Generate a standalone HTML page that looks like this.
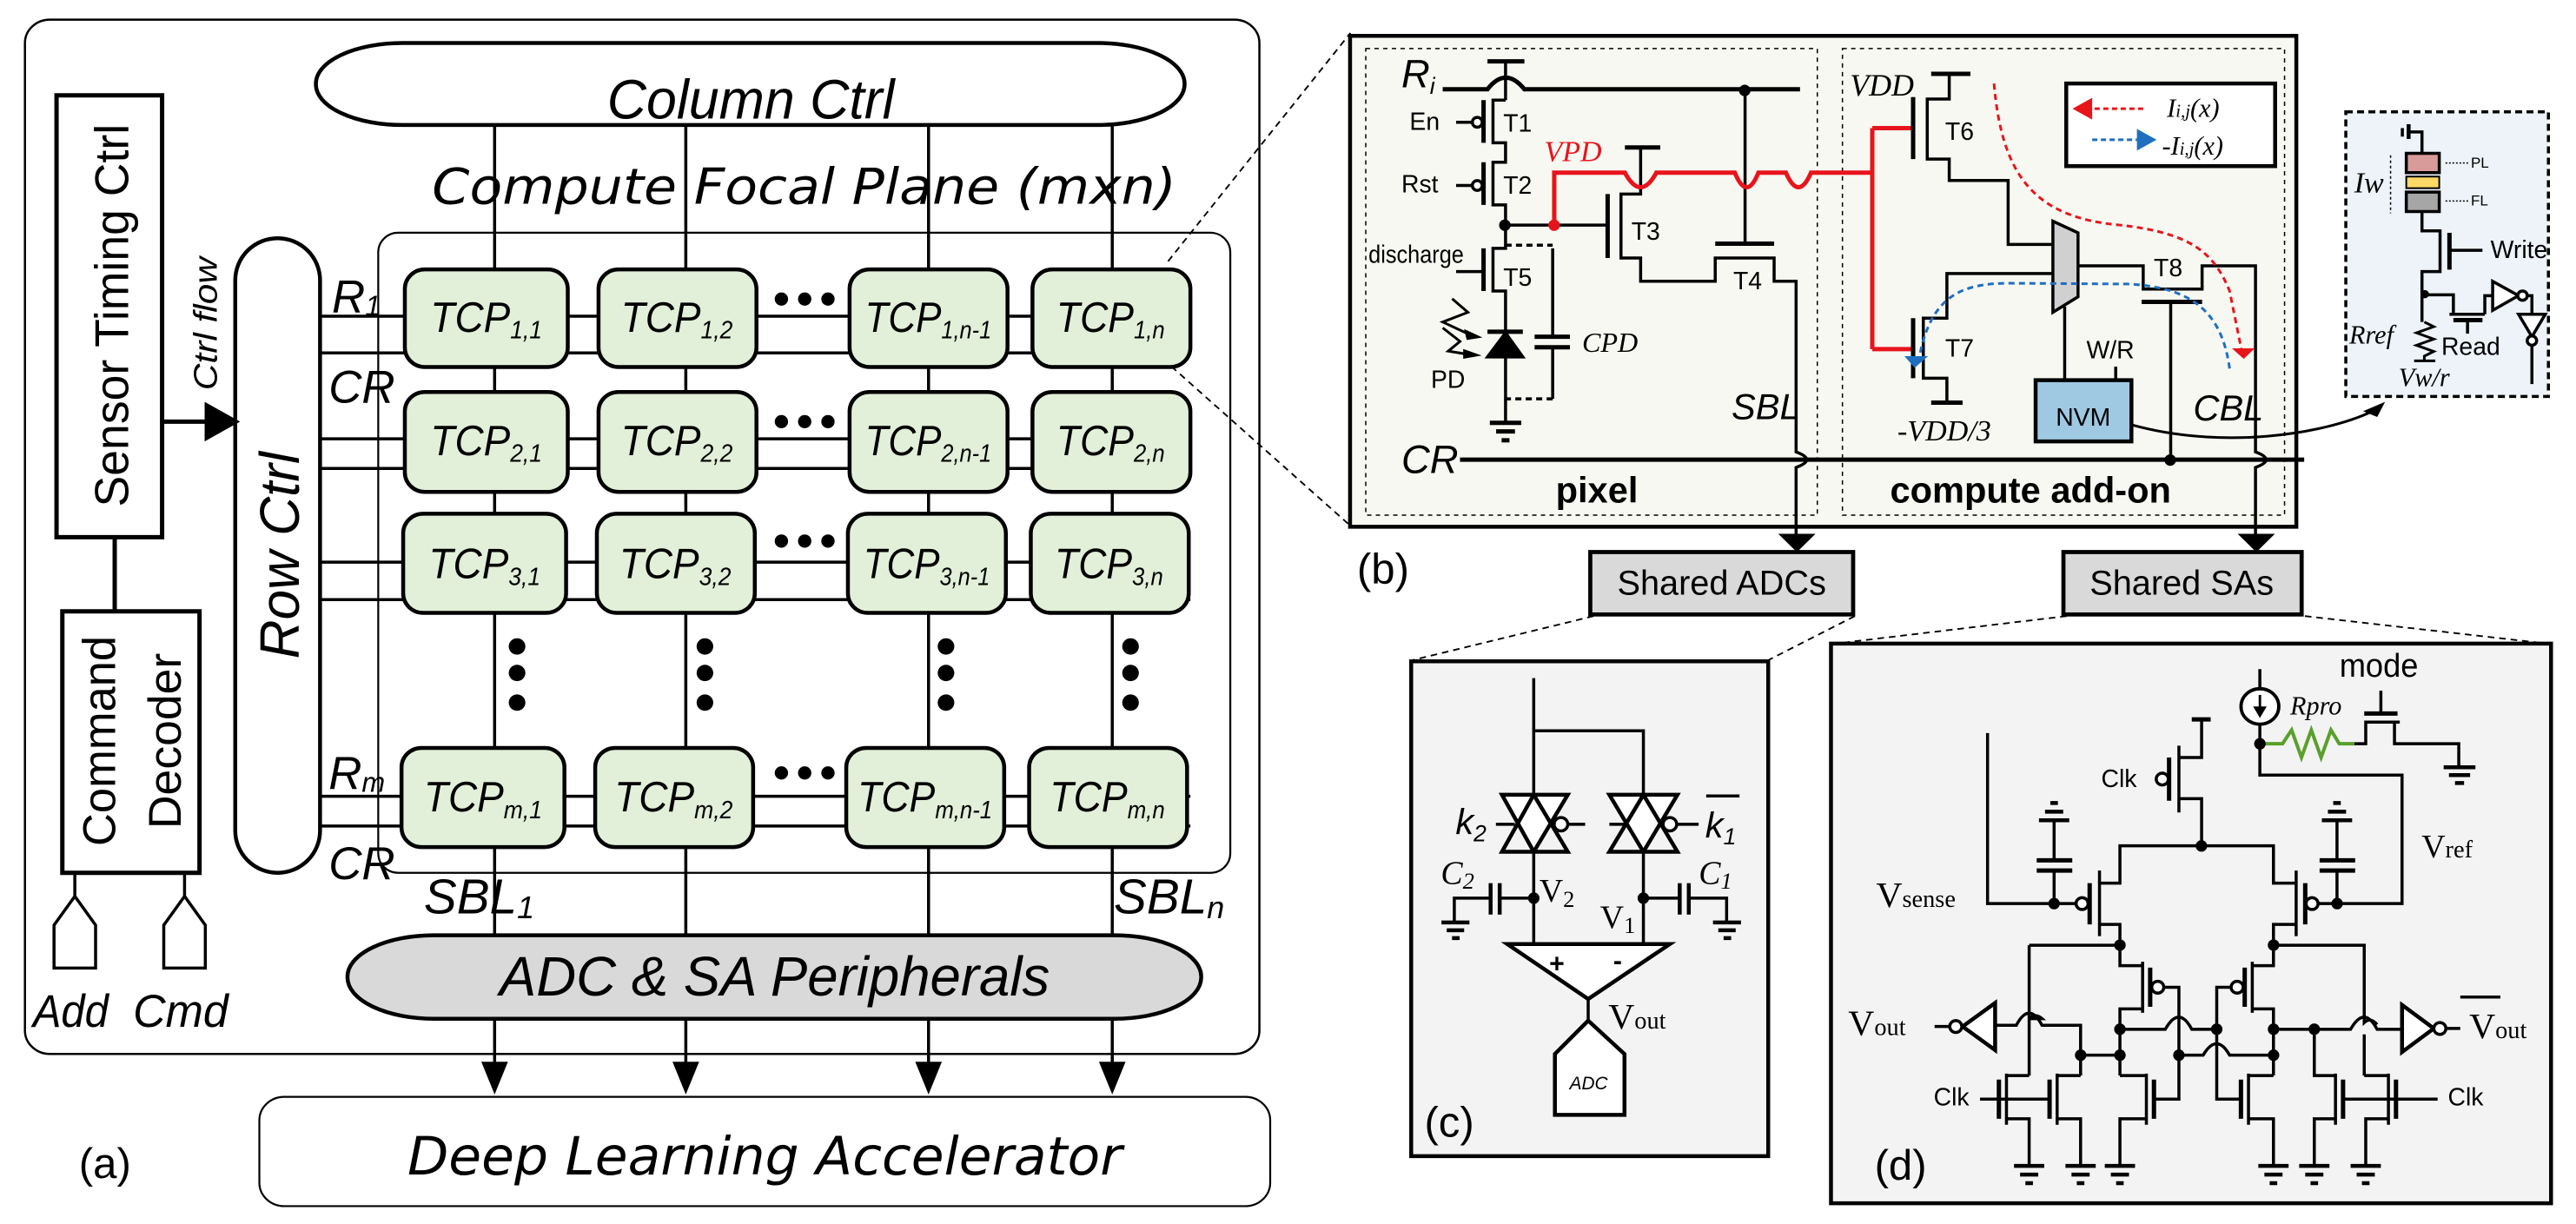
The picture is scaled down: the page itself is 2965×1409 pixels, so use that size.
<!DOCTYPE html>
<html><head><meta charset="utf-8"><style>
html,body{margin:0;padding:0;background:#fff}
svg{display:block}
.s *{vector-effect:non-scaling-stroke}
text{font-family:"Liberation Sans",sans-serif;fill:#000}
.i{font-style:italic}
.sf{font-family:"Liberation Serif",serif}
</style></head><body>
<svg width="2965" height="1409" viewBox="0 0 1568 745" xmlns="http://www.w3.org/2000/svg">
<rect width="1568" height="745" fill="#fff"/>

<!-- ================= (a) ================= -->
<g class="s" transform="scale(0.506,0.4752)" stroke="#000" fill="none" stroke-width="3.5">
 <rect x="30" y="25" width="1485" height="1325" rx="30" ry="30" stroke-width="2.5"/>
 <rect x="380" y="55" width="1045" height="105" rx="104" ry="52" fill="#fff" stroke-width="4.5"/>
 <rect x="455" y="298" width="1025" height="820" rx="24" ry="25" stroke-width="2.2"/>
 <rect x="68" y="122" width="127" height="566" stroke-width="5"/>
 <line x1="138" y1="688" x2="138" y2="783" stroke-width="5"/>
 <rect x="75" y="783" width="165" height="335" stroke-width="5"/>
 <line x1="90" y1="1118" x2="90" y2="1148"/><line x1="222" y1="1118" x2="222" y2="1148"/>
 <polygon points="90,1148 115,1185 115,1240 65,1240 65,1185"/>
 <polygon points="222,1148 247,1185 247,1240 197,1240 197,1185"/>
 <rect x="283" y="305" width="102" height="813" rx="51" ry="54" fill="#fff" stroke-width="4.5"/>
 <line x1="195" y1="540" x2="250" y2="540" stroke-width="5"/>
 <polygon points="248,518 285,540 248,562" fill="#000"/>
 <line x1="595" y1="160" x2="595" y2="1198"/><line x1="825" y1="160" x2="825" y2="1198"/>
 <line x1="1117" y1="160" x2="1117" y2="1198"/><line x1="1338" y1="160" x2="1338" y2="1198"/>
 <line x1="385" y1="405" x2="1432" y2="405"/><line x1="385" y1="452" x2="1432" y2="452"/>
 <line x1="385" y1="562" x2="1432" y2="562"/><line x1="385" y1="600" x2="1432" y2="600"/>
 <line x1="385" y1="720" x2="1432" y2="720"/><line x1="385" y1="768" x2="1432" y2="768"/>
 <line x1="385" y1="1020" x2="1432" y2="1020"/><line x1="385" y1="1058" x2="1432" y2="1058"/>
 <g fill="#e2efd9" stroke-width="4.5">
  <rect x="487" y="345" width="196" height="125" rx="24" ry="25"/><rect x="720" y="345" width="190" height="125" rx="24" ry="25"/>
  <rect x="1022" y="345" width="190" height="125" rx="24" ry="25"/><rect x="1242" y="345" width="190" height="125" rx="24" ry="25"/>
  <rect x="487" y="502" width="196" height="128" rx="24" ry="25"/><rect x="720" y="502" width="190" height="128" rx="24" ry="25"/>
  <rect x="1022" y="502" width="190" height="128" rx="24" ry="25"/><rect x="1242" y="502" width="190" height="128" rx="24" ry="25"/>
  <rect x="485" y="658" width="196" height="127" rx="24" ry="25"/><rect x="718" y="658" width="190" height="127" rx="24" ry="25"/>
  <rect x="1020" y="658" width="190" height="127" rx="24" ry="25"/><rect x="1240" y="658" width="190" height="127" rx="24" ry="25"/>
  <rect x="483" y="958" width="196" height="127" rx="24" ry="25"/><rect x="716" y="958" width="190" height="127" rx="24" ry="25"/>
  <rect x="1018" y="958" width="190" height="127" rx="24" ry="25"/><rect x="1238" y="958" width="190" height="127" rx="24" ry="25"/>
 </g>
 <g fill="#000" stroke="none">
  <ellipse cx="940" cy="383" rx="8" ry="8.5"/><ellipse cx="968" cy="383" rx="8" ry="8.5"/><ellipse cx="996" cy="383" rx="8" ry="8.5"/>
  <ellipse cx="940" cy="540" rx="8" ry="8.5"/><ellipse cx="968" cy="540" rx="8" ry="8.5"/><ellipse cx="996" cy="540" rx="8" ry="8.5"/>
  <ellipse cx="940" cy="693" rx="8" ry="8.5"/><ellipse cx="968" cy="693" rx="8" ry="8.5"/><ellipse cx="996" cy="693" rx="8" ry="8.5"/>
  <ellipse cx="940" cy="990" rx="8" ry="8.5"/><ellipse cx="968" cy="990" rx="8" ry="8.5"/><ellipse cx="996" cy="990" rx="8" ry="8.5"/>
  <ellipse cx="622" cy="828" rx="10" ry="10.5"/><ellipse cx="622" cy="862" rx="10" ry="10.5"/><ellipse cx="622" cy="900" rx="10" ry="10.5"/>
  <ellipse cx="848" cy="828" rx="10" ry="10.5"/><ellipse cx="848" cy="862" rx="10" ry="10.5"/><ellipse cx="848" cy="900" rx="10" ry="10.5"/>
  <ellipse cx="1138" cy="828" rx="10" ry="10.5"/><ellipse cx="1138" cy="862" rx="10" ry="10.5"/><ellipse cx="1138" cy="900" rx="10" ry="10.5"/>
  <ellipse cx="1360" cy="828" rx="10" ry="10.5"/><ellipse cx="1360" cy="862" rx="10" ry="10.5"/><ellipse cx="1360" cy="900" rx="10" ry="10.5"/>
 </g>
 <rect x="418" y="1198" width="1027" height="107" rx="104" ry="53" fill="#d9d9d9" stroke-width="4.5"/>
 <line x1="595" y1="1305" x2="595" y2="1365"/><line x1="825" y1="1305" x2="825" y2="1365"/>
 <line x1="1117" y1="1305" x2="1117" y2="1365"/><line x1="1338" y1="1305" x2="1338" y2="1365"/>
 <g fill="#000" stroke="none">
  <polygon points="579,1360 611,1360 595,1402"/><polygon points="809,1360 841,1360 825,1402"/>
  <polygon points="1101,1360 1133,1360 1117,1402"/><polygon points="1322,1360 1354,1360 1338,1402"/>
 </g>
 <rect x="312" y="1405" width="1216" height="140" rx="30" ry="30" stroke-width="2.2"/>
</g>

<!-- (a) texts -->
<text x="457" y="72" text-anchor="middle" class="i" font-size="34" textLength="175" lengthAdjust="spacingAndGlyphs">Column Ctrl</text>
<text x="263" y="124" font-size="30" textLength="453" lengthAdjust="spacingAndGlyphs" style="font-family:'DejaVu Sans',sans-serif;font-style:italic">Compute Focal Plane (mxn)</text>
<text transform="translate(78,192) rotate(-90)" text-anchor="middle" font-size="29" textLength="233" lengthAdjust="spacingAndGlyphs">Sensor Timing Ctrl</text>
<text transform="translate(70,451) rotate(-90)" text-anchor="middle" font-size="28" textLength="128" lengthAdjust="spacingAndGlyphs">Command</text>
<text transform="translate(110,451) rotate(-90)" text-anchor="middle" font-size="28" textLength="107" lengthAdjust="spacingAndGlyphs">Decoder</text>
<text transform="translate(182,338) rotate(-90)" text-anchor="middle" class="i" font-size="34" textLength="126" lengthAdjust="spacingAndGlyphs">Row Ctrl</text>
<text transform="translate(132,197) rotate(-90)" text-anchor="middle" class="i" font-size="20" textLength="81" lengthAdjust="spacingAndGlyphs">Ctrl flow</text>
<text x="20" y="625" class="i" font-size="28" textLength="46" lengthAdjust="spacingAndGlyphs">Add</text>
<text x="81" y="625" class="i" font-size="28" textLength="58" lengthAdjust="spacingAndGlyphs">Cmd</text>
<text x="202" y="190" class="i" font-size="28">R<tspan font-size="17" dy="2">1</tspan></text>
<text x="200" y="245" class="i" font-size="28">CR</text>
<text x="200" y="480" class="i" font-size="28">R<tspan font-size="17" dy="2">m</tspan></text>
<text x="200" y="535" class="i" font-size="28">CR</text>
<g class="i" font-size="26" text-anchor="middle">
 <text x="296" y="202" textLength="68" lengthAdjust="spacingAndGlyphs">TCP<tspan font-size="15" dy="4">1,1</tspan></text>
 <text x="412" y="202" textLength="68" lengthAdjust="spacingAndGlyphs">TCP<tspan font-size="15" dy="4">1,2</tspan></text>
 <text x="565" y="202" textLength="77" lengthAdjust="spacingAndGlyphs">TCP<tspan font-size="15" dy="4">1,n-1</tspan></text>
 <text x="676" y="202" textLength="66" lengthAdjust="spacingAndGlyphs">TCP<tspan font-size="15" dy="4">1,n</tspan></text>
 <text x="296" y="277" textLength="68" lengthAdjust="spacingAndGlyphs">TCP<tspan font-size="15" dy="4">2,1</tspan></text>
 <text x="412" y="277" textLength="68" lengthAdjust="spacingAndGlyphs">TCP<tspan font-size="15" dy="4">2,2</tspan></text>
 <text x="565" y="277" textLength="77" lengthAdjust="spacingAndGlyphs">TCP<tspan font-size="15" dy="4">2,n-1</tspan></text>
 <text x="676" y="277" textLength="66" lengthAdjust="spacingAndGlyphs">TCP<tspan font-size="15" dy="4">2,n</tspan></text>
 <text x="295" y="352" textLength="68" lengthAdjust="spacingAndGlyphs">TCP<tspan font-size="15" dy="4">3,1</tspan></text>
 <text x="411" y="352" textLength="68" lengthAdjust="spacingAndGlyphs">TCP<tspan font-size="15" dy="4">3,2</tspan></text>
 <text x="564" y="352" textLength="77" lengthAdjust="spacingAndGlyphs">TCP<tspan font-size="15" dy="4">3,n-1</tspan></text>
 <text x="675" y="352" textLength="66" lengthAdjust="spacingAndGlyphs">TCP<tspan font-size="15" dy="4">3,n</tspan></text>
 <text x="294" y="494" textLength="72" lengthAdjust="spacingAndGlyphs">TCP<tspan font-size="15" dy="4">m,1</tspan></text>
 <text x="410" y="494" textLength="72" lengthAdjust="spacingAndGlyphs">TCP<tspan font-size="15" dy="4">m,2</tspan></text>
 <text x="563" y="494" textLength="82" lengthAdjust="spacingAndGlyphs">TCP<tspan font-size="15" dy="4">m,n-1</tspan></text>
 <text x="674" y="494" textLength="70" lengthAdjust="spacingAndGlyphs">TCP<tspan font-size="15" dy="4">m,n</tspan></text>
</g>
<text x="258" y="556" class="i" font-size="30">SBL<tspan font-size="19" dy="3">1</tspan></text>
<text x="678" y="556" class="i" font-size="30">SBL<tspan font-size="19" dy="3">n</tspan></text>
<text x="304" y="606" class="i" font-size="34" textLength="335" lengthAdjust="spacingAndGlyphs">ADC &amp; SA Peripherals</text>
<text x="248" y="715" font-size="32" textLength="435" lengthAdjust="spacingAndGlyphs" style="font-family:'DejaVu Sans',sans-serif;font-style:italic">Deep Learning Accelerator</text>
<text x="48" y="717" font-size="26">(a)</text>

<g stroke="#000" stroke-width="1" stroke-dasharray="4,3" fill="none">
 <line x1="711" y1="159" x2="822" y2="20"/>
 <line x1="713" y1="223" x2="822" y2="320"/>
 <line x1="970" y1="375" x2="859" y2="402"/>
 <line x1="1129" y1="375" x2="1076" y2="402"/>
 <line x1="1258" y1="375" x2="1115" y2="392"/>
 <line x1="1403" y1="375" x2="1553" y2="392"/>
</g>

<!-- ================= (b) ================= -->
<g class="s" transform="translate(817,0) scale(0.478,0.2361)" stroke="#000" fill="none" stroke-width="3.5">
 <rect x="10" y="92" width="1205" height="1266" fill="#f6f8f1" stroke-width="4.5"/>
 <rect x="30" y="125" width="575" height="1203" stroke-width="1.5" stroke-dasharray="5,5"/>
 <rect x="637" y="125" width="563" height="1203" stroke-width="1.5" stroke-dasharray="5,5"/>
 <rect x="922" y="215" width="266" height="213" fill="#fff" stroke-width="4.5"/>
 <line x1="185" y1="158" x2="232" y2="158" stroke-width="5"/>
 <line x1="208" y1="158" x2="208" y2="258"/>
 <path d="M128,230 L185,230 Q208,170 232,230 L583,230" stroke-width="5"/>
 <path d="M208,258 L192,258 L192,368 L208,368 L208,418 L192,418 L192,528 L208,528 L208,640 L192,640 L192,750 L208,750 L208,1090"/>
 <line x1="180" y1="258" x2="180" y2="368" stroke-width="5"/>
 <line x1="180" y1="418" x2="180" y2="528" stroke-width="5"/>
 <line x1="180" y1="640" x2="180" y2="750" stroke-width="5"/>
 <line x1="145" y1="315" x2="166" y2="315"/><ellipse cx="172" cy="315" rx="6.3" ry="12.7" fill="#fff"/>
 <line x1="145" y1="478" x2="166" y2="478"/><ellipse cx="172" cy="478" rx="6.3" ry="12.7" fill="#fff"/>
 <line x1="145" y1="700" x2="180" y2="700"/>
 <polygon points="185,920 230,920 208,858" fill="#000"/>
 <line x1="185" y1="855" x2="230" y2="855" stroke-width="5"/>
 <line x1="188" y1="1090" x2="228" y2="1090" stroke-width="5"/>
 <line x1="196" y1="1112" x2="220" y2="1112" stroke-width="5"/>
 <line x1="203" y1="1135" x2="213" y2="1135" stroke-width="5"/>
 <path d="M140,770 L160,805 L128,830 L165,865 M128,845 L150,880 L135,905 L165,915" stroke-width="3"/>
 <polygon points="158,855 172,868 160,872" fill="#000"/><polygon points="156,905 170,915 156,920" fill="#000"/>
 <path d="M208,632 L268,632 M268,1028 L208,1028" stroke-dasharray="7,5"/>
 <path d="M268,640 L268,868 M268,895 L268,1028"/>
 <line x1="245" y1="868" x2="290" y2="868" stroke-width="5"/><line x1="245" y1="895" x2="290" y2="895" stroke-width="5"/>
 <line x1="208" y1="580" x2="338" y2="580"/>
 <line x1="338" y1="500" x2="338" y2="665" stroke-width="5"/>
 <path d="M380,380 L380,500 L355,500 L355,665 L380,665 L380,725 L475,725 L475,665 L550,665 L550,725 L578,725 L578,1165 Q605,1185 578,1205 L578,1400"/>
 <line x1="360" y1="380" x2="405" y2="380" stroke-width="5"/>
 <line x1="513" y1="232" x2="513" y2="628"/>
 <line x1="475" y1="628" x2="550" y2="628" stroke-width="5"/>
 <polygon points="560,1380 598,1380 579,1418" fill="#000"/>
 <path d="M270,580 L270,445 L360,445 Q380,520 400,445 L500,445 Q515,520 530,445 L565,445 Q581,520 597,445 L675,445 M675,330 L675,900 M675,330 L727,330 M675,900 L727,900" stroke="#e8141c" stroke-width="5"/>
 <line x1="750" y1="190" x2="800" y2="190" stroke-width="5"/>
 <path d="M773,190 L773,255 L745,255 L745,410 L773,410 L773,465 L848,465 L848,630 L905,630"/>
 <line x1="727" y1="250" x2="727" y2="410" stroke-width="5"/>
 <polygon points="905,570 937,600 937,765 905,805" fill="#d0d0d0" stroke-width="3.5"/>
 <path d="M905,705 L770,705 L770,820 L740,820 L740,975 L770,975 L770,1038"/>
 <line x1="727" y1="820" x2="727" y2="975" stroke-width="5"/>
 <line x1="750" y1="1038" x2="790" y2="1038" stroke-width="5"/>
 <path d="M937,685 L1020,685 L1020,745 L1095,745 L1095,685 L1163,685 L1163,1165 Q1190,1185 1163,1205 L1163,1400"/>
 <line x1="1018" y1="778" x2="1095" y2="778" stroke-width="5"/>
 <line x1="1055" y1="778" x2="1055" y2="1185"/>
 <polygon points="1145,1380 1183,1380 1164,1418" fill="#000"/>
 <line x1="920" y1="790" x2="920" y2="980"/>
 <rect x="883" y="980" width="122" height="158" fill="#9fc8e2" stroke-width="4.5"/>
 <line x1="985" y1="945" x2="985" y2="980"/>
 <line x1="150" y1="1185" x2="1225" y2="1185" stroke-width="5"/>
 <line x1="1020" y1="280" x2="955" y2="280" stroke="#e8141c" stroke-width="3" stroke-dasharray="6,4"/>
 <polygon points="955,252 955,308 930,280" fill="#e8141c" stroke="none"/>
 <line x1="955" y1="360" x2="1012" y2="360" stroke="#1f6fc0" stroke-width="3" stroke-dasharray="6,4"/>
 <polygon points="1012,332 1012,388 1037,360" fill="#1f6fc0" stroke="none"/>
 <path d="M830,215 C840,450 880,560 990,580 C1080,600 1110,650 1130,750 L1145,900" stroke="#e8141c" stroke-width="3" stroke-dasharray="7,5"/>
 <polygon points="1133,898 1162,898 1148,925" fill="#e8141c" stroke="none"/>
 <path d="M1130,950 C1120,800 1080,740 1000,732 L850,730 C790,730 750,760 735,920" stroke="#1f6fc0" stroke-width="3" stroke-dasharray="7,5"/>
 <polygon points="716,918 746,918 729,948" fill="#1f6fc0" stroke="none"/>
 <path d="M1005,1095 C1120,1160 1250,1120 1312,1060" stroke-width="3"/>
 <polygon points="1300,1060 1328,1036 1318,1075" fill="#000" stroke="none"/>
 <rect x="1278" y="288" width="258" height="734" fill="#edf3f8" stroke-width="3.5" stroke-dasharray="8,5"/>
 <line x1="1350" y1="330" x2="1350" y2="352"/><line x1="1358" y1="320" x2="1358" y2="358" stroke-width="4.5"/>
 <path d="M1358,340 L1375,340 L1375,395"/>
 <rect x="1355" y="395" width="42" height="50" fill="#d99a9a" stroke-width="3.5"/>
 <rect x="1355" y="455" width="42" height="30" fill="#ffd966" stroke-width="2"/>
 <rect x="1355" y="495" width="42" height="50" fill="#a6a6a6" stroke-width="3.5"/>
 <line x1="1405" y1="420" x2="1435" y2="420" stroke-width="1.5" stroke-dasharray="2,2"/>
 <line x1="1405" y1="518" x2="1435" y2="518" stroke-width="1.5" stroke-dasharray="2,2"/>
 <line x1="1335" y1="400" x2="1335" y2="550" stroke-width="1.5" stroke-dasharray="3,3"/>
 <path d="M1375,545 L1375,595 L1398,595 L1398,700 L1375,700 L1375,830"/>
 <line x1="1410" y1="600" x2="1410" y2="695" stroke-width="5"/>
 <line x1="1410" y1="645" x2="1452" y2="645"/>
 <path d="M1378,760 L1415,760 L1415,810 M1410,810 L1455,810 M1455,810 L1455,762 L1465,762"/>
 <line x1="1415" y1="825" x2="1452" y2="825" stroke-width="5"/>
 <line x1="1433" y1="825" x2="1433" y2="860"/>
 <path d="M1378,830 L1390,842 L1368,858 L1390,874 L1368,890 L1390,906 L1378,918 L1378,930 M1365,930 L1392,930" stroke-width="3"/>
 <polygon points="1465,725 1465,800 1498,762" fill="#fff"/>
 <ellipse cx="1503" cy="762" rx="6" ry="12" fill="#fff"/>
 <path d="M1509,762 L1515,762 L1515,810"/>
 <polygon points="1498,810 1532,810 1515,868" fill="#fff"/>
 <ellipse cx="1515" cy="878" rx="6" ry="12" fill="#fff"/>
 <line x1="1515" y1="890" x2="1515" y2="990"/>
</g>
<g fill="#000">
 <circle cx="1062" cy="55" r="3.5"/>
 <circle cx="916" cy="137" r="3.5"/>
 <circle cx="946" cy="137" r="3.5" fill="#e8141c"/>
 <circle cx="1321" cy="280" r="3.5"/>
 <circle cx="1476" cy="179" r="2.5"/>
</g>
<text x="853" y="53" class="i" font-size="24">R<tspan font-size="14" dy="4">i</tspan></text>
<g font-size="15">
 <text x="858" y="79">En</text><text x="915" y="80">T1</text>
 <text x="853" y="117">Rst</text><text x="915" y="118">T2</text>
 <text x="833" y="160" textLength="58" lengthAdjust="spacingAndGlyphs">discharge</text>
 <text x="993" y="146">T3</text><text x="915" y="174">T5</text><text x="1055" y="176">T4</text>
 <text x="871" y="236">PD</text>
 <text x="1184" y="85">T6</text><text x="1184" y="217">T7</text><text x="1311" y="168">T8</text>
 <text x="1270" y="218">W/R</text>
 <text x="1268" y="259" text-anchor="middle">NVM</text>
</g>
<text x="940" y="98" class="sf i" font-size="18" style="fill:#e8141c">VPD</text>
<text x="963" y="214" class="sf i" font-size="17">CPD</text>
<text x="1054" y="255" class="i" font-size="22">SBL</text>
<text x="853" y="288" class="i" font-size="24">CR</text>
<text x="972" y="306" text-anchor="middle" font-size="22" font-weight="bold">pixel</text>
<text x="1236" y="306" text-anchor="middle" font-size="22" font-weight="bold">compute add-on</text>
<text x="1126" y="58" class="sf i" font-size="19">VDD</text>
<text x="1319" y="71" class="sf i" font-size="16">I<tspan font-size="11">i,j</tspan>(x)</text>
<text x="1316" y="94" class="sf i" font-size="16">-I<tspan font-size="11">i,j</tspan>(x)</text>
<text x="1155" y="268" class="sf i" font-size="18">-VDD/3</text>
<text x="1335" y="256" class="i" font-size="22">CBL</text>
<text x="826" y="355" font-size="26">(b)</text>
<rect x="968" y="336" width="160" height="38" fill="#d9d9d9" stroke="#000" stroke-width="2.5"/>
<text x="1048" y="362" text-anchor="middle" font-size="21">Shared ADCs</text>
<rect x="1256" y="336" width="145" height="38" fill="#d9d9d9" stroke="#000" stroke-width="2.5"/>
<text x="1328" y="362" text-anchor="middle" font-size="21">Shared SAs</text>
<text x="1504" y="102" font-size="9">PL</text>
<text x="1504" y="125" font-size="9">FL</text>
<text x="1433" y="117" class="sf i" font-size="18">Iw</text>
<text x="1516" y="157" font-size="15">Write</text>
<text x="1430" y="209" class="sf i" font-size="16">Rref</text>
<text x="1486" y="216" font-size="15">Read</text>
<text x="1460" y="235" class="sf i" font-size="16">Vw/r</text>

<!-- ================= (c) & (d) ================= -->
<g class="s" transform="translate(846.1,370.2) scale(0.4604,0.2391)" stroke="#000" fill="none" stroke-width="3.5">
 <rect x="28" y="135" width="472" height="1260" fill="#f3f3f3" stroke-width="4.5"/>
 <rect x="583" y="90" width="952" height="1425" fill="#f3f3f3" stroke-width="4.5"/>
 <path d="M190,178 L190,855 M190,312 L335,312 L335,855"/>
 <polygon points="148,475 235,475 190,620" fill="#fff" stroke-width="4.5"/><polygon points="148,620 235,620 190,475" fill="none" stroke-width="4.5"/>
 <polygon points="290,475 380,475 335,620" fill="#fff" stroke-width="4.5"/><polygon points="290,620 380,620 335,475" fill="none" stroke-width="4.5"/>
 <line x1="140" y1="550" x2="165" y2="550"/><ellipse cx="226" cy="550" rx="9" ry="17" fill="#fff"/><line x1="235" y1="550" x2="258" y2="550"/>
 <line x1="290" y1="550" x2="312" y2="550"/><ellipse cx="370" cy="550" rx="9" ry="17" fill="#fff"/><line x1="380" y1="550" x2="408" y2="550"/>
 <path d="M190,738 L145,738 M133,738 L85,738 L85,800"/>
 <line x1="145" y1="700" x2="145" y2="780" stroke-width="4.5"/><line x1="133" y1="700" x2="133" y2="780" stroke-width="4.5"/>
 <path d="M68,800 L105,800 M75,820 L98,820 M82,840 L92,840" stroke-width="4.5"/>
 <path d="M335,738 L383,738 M395,738 L445,738 L445,800"/>
 <line x1="383" y1="700" x2="383" y2="780" stroke-width="4.5"/><line x1="395" y1="700" x2="395" y2="780" stroke-width="4.5"/>
 <path d="M427,800 L464,800 M434,820 L457,820 M441,840 L451,840" stroke-width="4.5"/>
 <polygon points="155,855 370,855 262,995" fill="#fff" stroke-width="4.5"/>
 <line x1="262" y1="995" x2="262" y2="1050"/>
 <polygon points="262,1050 310,1135 310,1290 218,1290 218,1135" fill="#fff" stroke-width="4.5"/>
 <line x1="418" y1="478" x2="462" y2="478"/>
 <path d="M790,318 L790,752 L906,752"/>
 <ellipse cx="915" cy="752" rx="8" ry="15" fill="#fff"/>
 <path d="M878,752 L878,668 M878,642 L878,540"/>
 <line x1="855" y1="668" x2="902" y2="668" stroke-width="5"/><line x1="855" y1="642" x2="902" y2="642" stroke-width="5"/>
 <path d="M858,540 L898,540 M866,518 L890,518 M873,496 L883,496" stroke-width="4.5"/>
 <line x1="925" y1="700" x2="925" y2="805" stroke-width="5"/>
 <path d="M938,668 L938,835 M938,700 L965,700 L965,605 L1168,605 L1168,700 L1198,700 M938,805 L965,805 L965,858 M1198,805 L1168,805 L1168,858 M1198,668 L1198,835"/>
 <line x1="1210" y1="700" x2="1210" y2="805" stroke-width="5"/>
 <ellipse cx="1219" cy="752" rx="8" ry="15" fill="#fff"/>
 <path d="M1228,752 L1338,752 L1338,425 L1150,425 L1150,345"/>
 <path d="M1252,752 L1252,668 M1252,642 L1252,540"/>
 <line x1="1229" y1="668" x2="1276" y2="668" stroke-width="5"/><line x1="1229" y1="642" x2="1276" y2="642" stroke-width="5"/>
 <path d="M1232,540 L1272,540 M1240,518 L1264,518 M1247,496 L1257,496" stroke-width="4.5"/>
 <path d="M1073,605 L1073,485 L1043,485 M1043,350 L1043,520 M1043,380 L1073,380 L1073,283"/>
 <line x1="1060" y1="283" x2="1085" y2="283" stroke-width="5"/>
 <line x1="1030" y1="380" x2="1030" y2="490" stroke-width="5"/>
 <ellipse cx="1021" cy="435" rx="8" ry="15" fill="#fff"/>
 <path d="M1150,155 L1150,205 M1150,295 L1150,345"/>
 <path d="M1150,225 L1150,255"/>
 <polygon points="1140,250 1160,250 1150,282" fill="#000"/>
 <path d="M1150,345 L1180,345 L1192,310 L1205,380 L1218,310 L1231,380 L1244,310 L1255,345 L1275,345" stroke="#5aa02c" stroke-width="4"/>
 <path d="M1275,345 L1290,345 L1290,290 L1335,290 M1328,290 L1328,345 L1413,345 L1413,405"/>
 <line x1="1288" y1="268" x2="1332" y2="268" stroke-width="5"/>
 <line x1="1310" y1="268" x2="1310" y2="210"/>
 <path d="M1393,405 L1435,405 M1400,425 L1428,425 M1408,445 L1420,445" stroke-width="4.5"/>
 <path d="M845,858 L965,858 M1168,858 L1288,858 L1288,1055 Q1296,1040 1305,1060 M845,858 L845,1045 Q853,1030 862,1045 L845,1045 M845,1045 L845,1190"/>
 <path d="M1288,1085 L1288,1190"/>
 <path d="M965,858 L965,910 L995,910 M995,900 L995,1030 M995,1020 L965,1020 L965,1190"/>
 <line x1="1005" y1="915" x2="1005" y2="1015" stroke-width="5"/>
 <ellipse cx="1015" cy="965" rx="8" ry="15" fill="#fff"/>
 <path d="M1023,965 L1043,965 L1043,1250 L1010,1250"/>
 <path d="M1168,858 L1168,910 L1140,910 M1140,900 L1140,1030 M1140,1020 L1168,1020 L1168,1190"/>
 <line x1="1130" y1="915" x2="1130" y2="1015" stroke-width="5"/>
 <ellipse cx="1120" cy="965" rx="8" ry="15" fill="#fff"/>
 <path d="M1112,965 L1093,965 L1093,1250 L1125,1250"/>
 <path d="M965,1072 L1025,1072 Q1043,1010 1060,1072 L1093,1072"/>
 <path d="M1168,1072 L1270,1072 Q1288,1010 1305,1072 L1338,1072"/>
 <path d="M913,1138 L965,1138 M1043,1138 L1075,1138 Q1093,1080 1110,1138 L1168,1138"/>
 <polygon points="800,1005 800,1125 757,1065" fill="#fff" stroke-width="4.5"/>
 <ellipse cx="748" cy="1065" rx="8" ry="15" fill="#fff"/>
 <line x1="740" y1="1065" x2="720" y2="1065"/>
 <path d="M800,1062 L828,1062 Q845,1000 862,1062 L913,1062 L913,1190"/>
 <polygon points="1338,1010 1338,1130 1380,1070" fill="#fff" stroke-width="4.5"/>
 <ellipse cx="1388" cy="1070" rx="8" ry="15" fill="#fff"/>
 <line x1="1396" y1="1070" x2="1415" y2="1070"/>
 <line x1="1415" y1="990" x2="1468" y2="990"/>
 <path d="M815,1185 L815,1315 M815,1190 L845,1190 M815,1300 L845,1300 L845,1420"/>
 <line x1="805" y1="1200" x2="805" y2="1300" stroke-width="5"/>
 <path d="M882,1185 L882,1315 M882,1190 L913,1190 M882,1300 L913,1300 L913,1420"/>
 <line x1="872" y1="1200" x2="872" y2="1300" stroke-width="5"/>
 <line x1="780" y1="1250" x2="872" y2="1250"/>
 <path d="M1000,1185 L1000,1315 M1000,1190 L965,1190 M1000,1300 L965,1300 L965,1420"/>
 <line x1="1010" y1="1200" x2="1010" y2="1300" stroke-width="5"/>
 <path d="M1135,1185 L1135,1315 M1135,1190 L1168,1190 M1135,1300 L1168,1300 L1168,1420"/>
 <line x1="1125" y1="1200" x2="1125" y2="1300" stroke-width="5"/>
 <path d="M1222,1072 L1222,1190 L1250,1190 M1250,1185 L1250,1315 M1250,1300 L1222,1300 L1222,1420"/>
 <line x1="1260" y1="1200" x2="1260" y2="1300" stroke-width="5"/>
 <path d="M1288,1190 L1320,1190 M1320,1185 L1320,1315 M1320,1300 L1290,1300 L1290,1420"/>
 <line x1="1330" y1="1200" x2="1330" y2="1300" stroke-width="5"/>
 <line x1="1260" y1="1250" x2="1385" y2="1250"/>
 <g stroke-width="4.5">
  <path d="M825,1420 L865,1420 M833,1442 L857,1442 M840,1464 L850,1464"/>
  <path d="M893,1420 L933,1420 M901,1442 L925,1442 M908,1464 L918,1464"/>
  <path d="M945,1420 L985,1420 M953,1442 L977,1442 M960,1464 L970,1464"/>
  <path d="M1148,1420 L1188,1420 M1156,1442 L1180,1442 M1163,1464 L1173,1464"/>
  <path d="M1202,1420 L1242,1420 M1210,1442 L1234,1442 M1217,1464 L1227,1464"/>
  <path d="M1270,1420 L1310,1420 M1278,1442 L1302,1442 M1285,1464 L1295,1464"/>
 </g>
</g>
<g fill="#000">
 <circle cx="933.6" cy="546.7" r="3.5"/><circle cx="1000.3" cy="546.7" r="3.5"/>
 <circle cx="1250.3" cy="550" r="3.5"/><circle cx="1422.6" cy="550" r="3.5"/>
 <circle cx="1340" cy="514.9" r="3.5"/>
 <circle cx="1375.6" cy="452.7" r="3.5"/>
 <circle cx="1290.4" cy="575.3" r="3.5"/><circle cx="1383.9" cy="575.3" r="3.5"/>
 <circle cx="1290.4" cy="626.5" r="3.5"/><circle cx="1349.3" cy="626.5" r="3.5"/>
 <circle cx="1383.9" cy="626.5" r="3.5"/><circle cx="1408.7" cy="626.5" r="3.5"/>
 <circle cx="1266.5" cy="642.3" r="3.5"/><circle cx="1290.4" cy="642.3" r="3.5"/>
 <circle cx="1326.3" cy="642.3" r="3.5"/><circle cx="1383.9" cy="642.3" r="3.5"/>
</g>
<ellipse cx="1375.6" cy="430" rx="11.5" ry="10.8" fill="#fff" stroke="#000" stroke-width="2"/>
<line x1="1375.6" y1="423" x2="1375.6" y2="432" stroke="#000" stroke-width="1.5"/>
<polygon points="1371.5,430 1379.7,430 1375.6,437" fill="#000"/>
<text x="886" y="508" class="i" font-size="22">k<tspan font-size="14" dy="4">2</tspan></text>
<text x="1038" y="510" class="i" font-size="22">k<tspan font-size="14" dy="4">1</tspan></text>
<text x="877" y="538" class="sf i" font-size="20">C<tspan font-size="14" dy="3">2</tspan></text>
<text x="937" y="549" class="sf" font-size="20">V<tspan font-size="14" dy="3">2</tspan></text>
<text x="1034" y="538" class="sf i" font-size="20">C<tspan font-size="14" dy="3">1</tspan></text>
<text x="974" y="565" class="sf" font-size="20">V<tspan font-size="14" dy="3">1</tspan></text>
<text x="943" y="592" font-size="16" font-weight="bold">+</text>
<text x="982" y="590" font-size="16" font-weight="bold">-</text>
<text x="979" y="626" class="sf" font-size="22">V<tspan font-size="15">out</tspan></text>
<text x="967" y="663" text-anchor="middle" class="i" font-size="11">ADC</text>
<text x="867" y="692" font-size="26">(c)</text>
<text x="1448" y="412" text-anchor="middle" font-size="20" textLength="48" lengthAdjust="spacingAndGlyphs">mode</text>
<text x="1394" y="435" class="sf i" font-size="16" fill="#222">Rpro</text>
<text x="1279" y="479" font-size="15">Clk</text>
<text x="1474" y="522" class="sf" font-size="20">V<tspan font-size="15">ref</tspan></text>
<text x="1142" y="552" class="sf" font-size="22">V<tspan font-size="15">sense</tspan></text>
<text x="1125" y="630" class="sf" font-size="22">V<tspan font-size="15">out</tspan></text>
<text x="1503" y="632" class="sf" font-size="22">V<tspan font-size="15">out</tspan></text>
<text x="1177" y="673" font-size="15">Clk</text>
<text x="1490" y="673" font-size="15">Clk</text>
<text x="1141" y="718" font-size="26">(d)</text>
</svg>
</body></html>
